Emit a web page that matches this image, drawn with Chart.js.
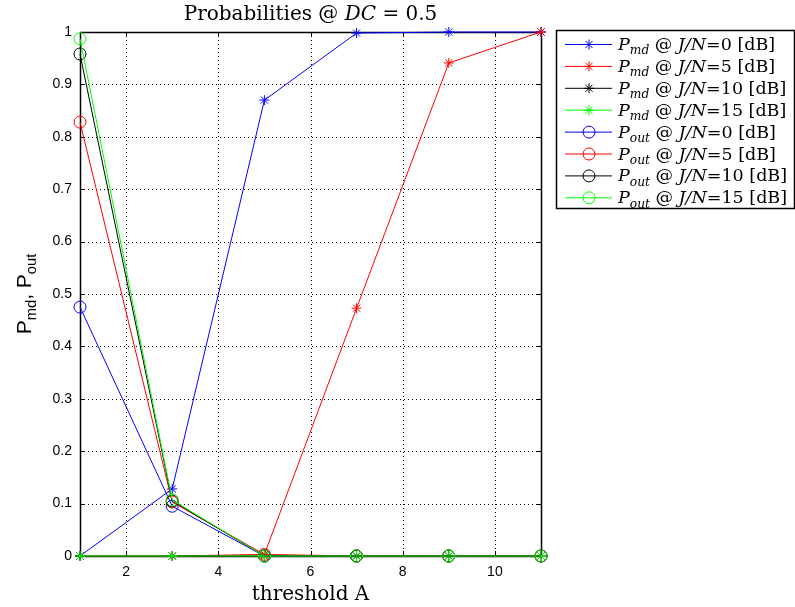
<!DOCTYPE html>
<html>
<head>
<meta charset="utf-8">
<script src="https://cdn.jsdelivr.net/npm/chart.js@4.4.1/dist/chart.umd.min.js"></script>
<style>
  html, body { margin: 0; padding: 0; background: #fff; }
  #wrap { width: 795px; height: 607px; }
</style>
</head>
<body>
<div id="wrap"><canvas id="chart"></canvas></div>
<script>
// data
const thresholds = [1, 3, 5, 7, 9, 11];
const jnLevels = ['0', '5', '10', '15'];
const pmd0 = [0, 0.128, 0.870, 0.998, 1, 1];
const pmd5 = [0, 0, 0.003, 0.473, 0.941, 1];
const pmd10 = [0, 0, 0, 0, 0, 0];
const pmd15 = [0, 0, 0, 0, 0, 0];
const pout0 = [0.475, 0.095, 0, 0, 0, 0];
const pout5 = [0.828, 0.103, 0.003, 0, 0, 0];
const pout10 = [0.958, 0.105, 0, 0, 0, 0];
const pout15 = [0.987, 0.107, 0, 0, 0, 0];
const xTicks = [2, 4, 6, 8, 10];
const yTicks = [0, 0.1, 0.2, 0.3, 0.4, 0.5, 0.6, 0.7, 0.8, 0.9, 1];

const colors = ['#0000ff', '#ff0000', '#000000', '#00ff00'];
const SERIF = '"DejaVu Serif", "Liberation Serif", serif';
const SANS = '"Liberation Sans", Arial, sans-serif';

const toPts = vals => vals.map((v, i) => ({ x: thresholds[i], y: v }));

const series = [
    { kind: 'md', vals: pmd0 }, { kind: 'md', vals: pmd5 },
    { kind: 'md', vals: pmd10 }, { kind: 'md', vals: pmd15 },
    { kind: 'out', vals: pout0 }, { kind: 'out', vals: pout5 },
    { kind: 'out', vals: pout10 }, { kind: 'out', vals: pout15 }
];

const datasets = series.map((s, i) => {
    const c = colors[i % 4];
    return {
        label: 'P' + s.kind + ' @ J/N=' + jnLevels[i % 4] + ' [dB]',
        data: toPts(s.vals),
        borderColor: c,
        backgroundColor: 'rgba(0,0,0,0)',
        borderWidth: 1,
        pointStyle: s.kind === 'md' ? 'star' : 'circle',
        pointRadius: s.kind === 'md' ? 5 : 6,
        pointBorderColor: c,
        pointBackgroundColor: 'rgba(0,0,0,0)',
        pointBorderWidth: 1,
        tension: 0,
        clip: false,
        order: series.length - i
    };
});

// rich text: parts {t, it, sub}
function drawRich(ctx, parts, x, y, size) {
    let cx = x;
    parts.forEach(p => {
        const fs = p.sub ? size * 0.7 : size;
        ctx.font = (p.it ? 'italic ' : '') + fs + 'px ' + (p.font || SERIF);
        ctx.fillText(p.t, cx, p.sub ? y + size * 0.25 : y);
        cx += ctx.measureText(p.t).width;
    });
    return cx - x;
}
function richWidth(ctx, parts, size) {
    let w = 0;
    parts.forEach(p => {
        const fs = p.sub ? size * 0.7 : size;
        ctx.font = (p.it ? 'italic ' : '') + fs + 'px ' + (p.font || SERIF);
        w += ctx.measureText(p.t).width;
    });
    return w;
}

const framePlugin = {
    id: 'frame',
    beforeDatasetsDraw(chart) {
        const { ctx, chartArea: a, scales: { x, y } } = chart;
        ctx.save();
        ctx.strokeStyle = '#000';
        ctx.lineWidth = 1;
        ctx.setLineDash([1, 3]);
        xTicks.forEach(v => {
            const px = Math.round(x.getPixelForValue(v)) + 0.5;
            ctx.beginPath(); ctx.moveTo(px, a.top); ctx.lineTo(px, a.bottom); ctx.stroke();
        });
        yTicks.forEach(v => {
            const py = Math.round(y.getPixelForValue(v)) + 0.5;
            ctx.beginPath(); ctx.moveTo(a.left, py); ctx.lineTo(a.right, py); ctx.stroke();
        });
        ctx.setLineDash([]);
        // inward ticks
        xTicks.forEach(v => {
            const px = Math.round(x.getPixelForValue(v)) + 0.5;
            ctx.beginPath();
            ctx.moveTo(px, a.bottom); ctx.lineTo(px, a.bottom - 5);
            ctx.moveTo(px, a.top); ctx.lineTo(px, a.top + 5);
            ctx.stroke();
        });
        yTicks.forEach(v => {
            const py = Math.round(y.getPixelForValue(v)) + 0.5;
            ctx.beginPath();
            ctx.moveTo(a.left, py); ctx.lineTo(a.left + 5, py);
            ctx.moveTo(a.right, py); ctx.lineTo(a.right - 5, py);
            ctx.stroke();
        });
        ctx.lineWidth = 1.5;
        ctx.strokeRect(Math.round(a.left) + 0.5, Math.round(a.top) + 0.5,
            Math.round(a.right - a.left), Math.round(a.bottom - a.top));
        ctx.restore();
    },
    afterDraw(chart) {
        const { ctx, chartArea: a } = chart;
        ctx.save();
        ctx.fillStyle = '#000';
        ctx.textBaseline = 'alphabetic';
        const midX = (a.left + a.right) / 2;

        // title
        const title = [{ t: 'Probabilities @ ' }, { t: 'DC', it: true }, { t: ' = 0.5' }];
        const tw = richWidth(ctx, title, 20);
        drawRich(ctx, title, midX - tw / 2, 20, 20);

        // x label
        const xl = [{ t: 'threshold A' }];
        const xw = richWidth(ctx, xl, 20);
        drawRich(ctx, xl, midX - xw / 2, 600, 20);

        // y label
        const yl = [
            { t: 'P', font: SANS }, { t: 'md', sub: true, font: SANS },
            { t: ', P', font: SANS }, { t: 'out', sub: true, font: SANS }
        ];
        ctx.save();
        ctx.translate(31, (a.top + a.bottom) / 2);
        ctx.rotate(-Math.PI / 2);
        const yw = richWidth(ctx, yl, 21);
        drawRich(ctx, yl, -yw / 2, 0, 21);
        ctx.restore();

        // legend
        const lx = 556, ly = 30, lw = 238, lh = 178;
        ctx.fillStyle = '#fff';
        ctx.fillRect(lx, ly, lw, lh);
        ctx.strokeStyle = '#000';
        ctx.lineWidth = 1.5;
        ctx.strokeRect(lx + 0.5, ly + 0.5, lw, lh);
        ctx.lineWidth = 1;
        series.forEach((s, i) => {
            const c = colors[i % 4];
            const rowY = ly + 14 + i * 21.9;
            ctx.strokeStyle = c;
            ctx.beginPath();
            ctx.moveTo(lx + 9, rowY + 0.5); ctx.lineTo(lx + 56, rowY + 0.5);
            ctx.stroke();
            ctx.fillStyle = 'rgba(0,0,0,0)';
            Chart.helpers.drawPoint(ctx, {
                pointStyle: s.kind === 'md' ? 'star' : 'circle',
                radius: s.kind === 'md' ? 5 : 6,
                borderWidth: 1
            }, lx + 33, rowY + 0.5);
            ctx.fillStyle = '#000';
            const parts = [
                { t: 'P', it: true }, { t: s.kind, it: true, sub: true },
                { t: ' @ ' }, { t: 'J/N', it: true },
                { t: '=' + jnLevels[i % 4] + ' [dB]' }
            ];
            drawRich(ctx, parts, lx + 62, rowY + 6, 17.5);
        });
        ctx.restore();
    }
};

const ctx = document.getElementById('chart').getContext('2d');
new Chart(ctx, {
    type: 'line',
    data: { datasets },
    options: {
        responsive: true,
        maintainAspectRatio: false,
        animation: false,
        layout: { padding: { top: 32, right: 254, left: 0, bottom: 0 } },
        plugins: { legend: { display: false }, title: { display: false }, tooltip: { enabled: false } },
        scales: {
            x: {
                type: 'linear',
                min: 1, max: 11,
                afterBuildTicks: axis => { axis.ticks = xTicks.map(v => ({ value: v })); },
                afterFit: axis => { axis.height = 51; },
                grid: { display: false, drawTicks: false },
                border: { display: false },
                ticks: { color: '#000', font: { family: SANS, size: 14 }, padding: 8 }
            },
            y: {
                min: 0, max: 1,
                afterBuildTicks: axis => { axis.ticks = yTicks.map(v => ({ value: v })); },
                afterFit: axis => { axis.width = 80; },
                grid: { display: false, drawTicks: false },
                border: { display: false },
                ticks: { color: '#000', font: { family: SANS, size: 14 }, padding: 8,
                    callback: v => String(Math.round(v * 10) / 10) }
            }
        }
    },
    plugins: [framePlugin]
});
</script>
</body>
</html>
